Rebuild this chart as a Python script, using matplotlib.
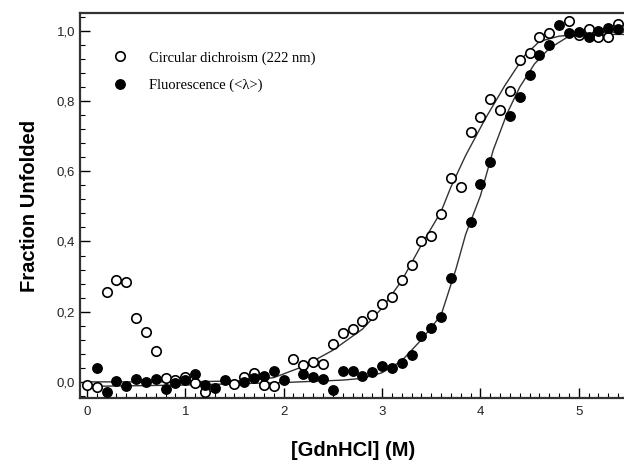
import matplotlib
matplotlib.use("Agg")
import matplotlib.pyplot as plt
from matplotlib.ticker import MultipleLocator, FuncFormatter, AutoMinorLocator

# circular dichroism (222 nm), open symbols
cd_x = [0.0, 0.1, 0.2, 0.3, 0.4, 0.5, 0.6, 0.7, 0.8, 0.9, 1.0, 1.1, 1.2, 1.5, 1.6, 1.7,
        1.8, 1.9, 2.1, 2.2, 2.3, 2.4, 2.5, 2.6, 2.7, 2.8, 2.9, 3.0, 3.1, 3.2, 3.3, 3.4,
        3.5, 3.6, 3.7, 3.8, 3.9, 4.0, 4.1, 4.2, 4.3, 4.4, 4.5, 4.6, 4.7, 4.9, 5.0, 5.1,
        5.2, 5.3, 5.4]
cd_y = [-0.01, -0.015, 0.255, 0.29, 0.285, 0.183, 0.143, 0.089, 0.01, 0.005, 0.013, -0.003,
        -0.028, -0.006, 0.015, 0.025, -0.009, -0.011, 0.065, 0.048, 0.058, 0.05, 0.107,
        0.14, 0.15, 0.172, 0.19, 0.222, 0.241, 0.29, 0.333, 0.401, 0.415, 0.478, 0.58,
        0.556, 0.712, 0.755, 0.805, 0.774, 0.83, 0.916, 0.937, 0.982, 0.995, 1.027, 0.987,
        1.006, 0.982, 0.982, 1.02]

# fluorescence (<lambda>), filled symbols
fl_x = [0.1, 0.2, 0.3, 0.4, 0.5, 0.6, 0.7, 0.8, 0.9, 1.0, 1.1, 1.2, 1.3, 1.4, 1.6, 1.7,
        1.8, 1.9, 2.0, 2.2, 2.3, 2.4, 2.5, 2.6, 2.7, 2.8, 2.9, 3.0, 3.1, 3.2, 3.3, 3.4,
        3.5, 3.6, 3.7, 3.9, 4.0, 4.1, 4.3, 4.4, 4.5, 4.6, 4.7, 4.8, 4.9, 5.0, 5.1, 5.2,
        5.3, 5.4]
fl_y = [0.039, -0.028, 0.003, -0.013, 0.008, 0.001, 0.008, -0.021, -0.004, 0.006, 0.023,
        -0.009, -0.018, 0.006, 0.001, 0.01, 0.017, 0.032, 0.006, 0.023, 0.013, 0.008,
        -0.023, 0.032, 0.032, 0.018, 0.027, 0.044, 0.039, 0.055, 0.077, 0.131, 0.153,
        0.186, 0.297, 0.455, 0.564, 0.627, 0.757, 0.812, 0.873, 0.93, 0.959, 1.016, 0.993,
        0.997, 0.984, 1.0, 1.007, 1.006]

# fitted curves
cd_fit_x = [0.0, 1.0, 1.6, 1.9, 2.2, 2.5, 2.8, 3.0, 3.2, 3.4, 3.6, 3.7, 3.85, 4.05, 4.25,
            4.45, 4.6, 4.8, 5.0, 5.48]
cd_fit_y = [0.0, 0.0, 0.003, 0.012, 0.044, 0.09, 0.15, 0.21, 0.288, 0.39, 0.485, 0.555,
            0.645, 0.75, 0.845, 0.93, 0.97, 0.985, 0.99, 0.99]
fl_fit_x = [0.0, 1.0, 2.0, 2.6, 2.8, 3.0, 3.2, 3.4, 3.6, 3.75, 3.85, 4.0, 4.13, 4.27, 4.4,
            4.55, 4.7, 4.9, 5.1, 5.48]
fl_fit_y = [-0.013, -0.009, -0.002, 0.005, 0.01, 0.026, 0.06, 0.12, 0.19, 0.32, 0.42, 0.53,
            0.66, 0.764, 0.84, 0.906, 0.95, 0.985, 0.995, 0.997]

plt.rcParams['font.family'] = ['Liberation Sans', 'DejaVu Sans']

fig = plt.figure(figsize=(6.24, 4.66), dpi=100)
ax = fig.add_axes([80 / 624, 68 / 466, 546 / 624, 385 / 466])

ax.plot(cd_fit_x, cd_fit_y, color='#333333', lw=1.0, zorder=2)
ax.plot(fl_fit_x, fl_fit_y, color='#333333', lw=1.0, zorder=2)
ax.plot(cd_x, cd_y, 'o', ms=6.8, mfc='white', mec='black', mew=1.2, zorder=3,
        label='Circular dichroism (222 nm)')
ax.plot(fl_x, fl_y, 'o', ms=6.8, mfc='black', mec='black', zorder=4,
        label='Fluorescence (<λ>)')

ax.set_xlim(-0.07, 5.48)
ax.set_ylim(-0.046, 1.051)

ax.xaxis.set_major_locator(MultipleLocator(1))
ax.xaxis.set_minor_locator(AutoMinorLocator(10))
ax.yaxis.set_major_locator(MultipleLocator(0.2))
ax.yaxis.set_minor_locator(AutoMinorLocator(5))
ax.yaxis.set_major_formatter(FuncFormatter(lambda v, p: ('%.1f' % v).replace('.', ',')))
ax.tick_params(which='both', direction='in', top=False, right=False, labelsize=9.5,
               labelcolor='#222222')
ax.tick_params(which='major', length=7, width=1)
ax.tick_params(which='minor', length=3.5, width=0.8)
ax.tick_params(axis='x', pad=6)

for side in ['left', 'bottom', 'top']:
    ax.spines[side].set_linewidth(1.6)
    ax.spines[side].set_color('#333333')
ax.spines['right'].set_visible(False)

ax.set_xlabel('[GdnHCl] (M)', fontsize=14.5, fontweight='bold', labelpad=16)
ax.set_ylabel('Fraction Unfolded', fontsize=14.5, fontweight='bold', labelpad=13)

ax.legend(loc='upper left', bbox_to_anchor=(0.035, 0.935), frameon=False, numpoints=1,
          handlelength=1.0, handletextpad=1.5, labelspacing=0.95,
          prop={'family': 'Liberation Serif', 'size': 10.5})

fig.savefig('out.png', dpi=100)
